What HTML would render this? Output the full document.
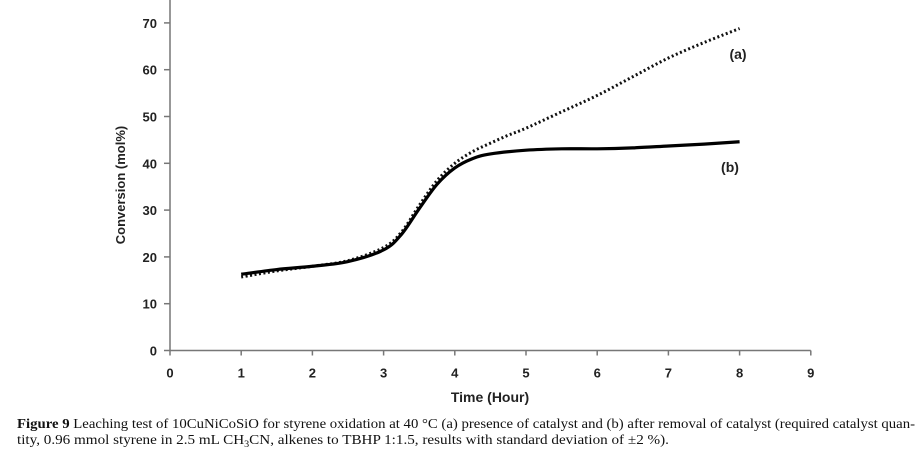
<!DOCTYPE html>
<html><head><meta charset="utf-8">
<style>
html,body{margin:0;padding:0;background:#fff;}
svg{display:block;}
.tk{font-family:"Liberation Sans",Arial,sans-serif;font-weight:bold;font-size:13px;fill:#222;}
</style></head>
<body>
<svg id="chart" width="922" height="462" viewBox="0 0 922 462">
<g id="plot"></g>
<text x="738" y="59" text-anchor="middle" class="tk" style="font-size:14px">(a)</text>
<text x="730" y="172" text-anchor="middle" class="tk" style="font-size:14px">(b)</text>
<text x="490" y="402" text-anchor="middle" class="tk" style="font-size:14px">Time (Hour)</text>
<text transform="translate(125,185) rotate(-90)" text-anchor="middle" class="tk" style="font-size:13px">Conversion (mol%)</text>
<g style="font-family:'Liberation Serif',serif;font-size:13.5px;fill:#111;">
<text x="17" y="428" textLength="898" lengthAdjust="spacingAndGlyphs"><tspan font-weight="bold">Figure 9</tspan> Leaching test of 10CuNiCoSiO for styrene oxidation at 40 °C (a) presence of catalyst and (b) after removal of catalyst (required catalyst quan-</text>
<text x="17" y="444" textLength="652" lengthAdjust="spacingAndGlyphs">tity, 0.96 mmol styrene in 2.5 mL CH<tspan font-size="9" dy="3">3</tspan><tspan dy="-3">CN, alkenes to TBHP 1:1.5, results with standard deviation of ±2 %).</tspan></text>
</g>
</svg>
<script>
const xTicks=[0,1,2,3,4,5,6,7,8,9];
const yTicks=[0,10,20,30,40,50,60,70];
const timeA=[1,1.5,2,2.5,3,3.25,3.5,3.75,4,4.25,4.5,4.75,5,5.5,6,6.5,7,7.5,8];
const seriesA=[15.7,17,18,19.2,22,25.3,31,36.3,40,42.5,44.3,46,47.5,51,54.5,58.5,62.5,65.8,68.8];
const timeB=[1,1.5,2,2.5,3,3.25,3.5,3.75,4,4.25,4.5,5,5.5,6,6.5,7,7.5,8];
const seriesB=[16.3,17.3,18,19,21.5,24.8,30.3,35.5,39,41,42,42.8,43.1,43.1,43.3,43.7,44.1,44.6];

const X0=170,XS=71.2,Y0=350.5,YS=4.68;
const sx=v=>X0+v*XS, sy=v=>Y0-v*YS;
const NS='http://www.w3.org/2000/svg';
const g=document.getElementById('plot');
function mk(t,a){const e=document.createElementNS(NS,t);for(const k in a)e.setAttribute(k,a[k]);g.appendChild(e);return e;}

const ya=mk('line',{x1:X0,y1:0,x2:X0,y2:Y0,stroke:'#777','stroke-width':1.5});


const xa=mk('line',{x1:X0,y1:Y0,x2:sx(9),y2:Y0,stroke:'#777','stroke-width':1.5});


yTicks.forEach(v=>{
  mk('line',{x1:X0-6,y1:sy(v),x2:X0,y2:sy(v),stroke:'#777','stroke-width':1.5});
  const t=mk('text',{x:X0-13,y:sy(v)+5,'text-anchor':'end',class:'tk'});t.textContent=v;
  
  
});
xTicks.forEach(v=>{
  mk('line',{x1:sx(v),y1:Y0,x2:sx(v),y2:Y0+5,stroke:'#777','stroke-width':1.5});
  const t=mk('text',{x:sx(v),y:Y0+27,'text-anchor':'middle',class:'tk'});t.textContent=v;
  
  
});
function pathOf(xs,ys){
  const p=xs.map((x,i)=>[sx(x),sy(ys[i])]);
  let d='M'+p[0][0]+','+p[0][1];
  for(let i=0;i<p.length-1;i++){
    const p0=p[i-1]||p[i],p1=p[i],p2=p[i+1],p3=p[i+2]||p2;
    const c1=[p1[0]+(p2[0]-p0[0])/6,p1[1]+(p2[1]-p0[1])/6];
    const c2=[p2[0]-(p3[0]-p1[0])/6,p2[1]-(p3[1]-p1[1])/6];
    d+=`C${c1[0]},${c1[1]} ${c2[0]},${c2[1]} ${p2[0]},${p2[1]}`;
  }
  return d;
}
const la=mk('path',{d:pathOf(timeA,seriesA),fill:'none',stroke:'#111','stroke-width':3,'stroke-dasharray':'2,2.5'});


const lb=mk('path',{d:pathOf(timeB,seriesB),fill:'none',stroke:'#000','stroke-width':3.2});


</script>
</body></html>
